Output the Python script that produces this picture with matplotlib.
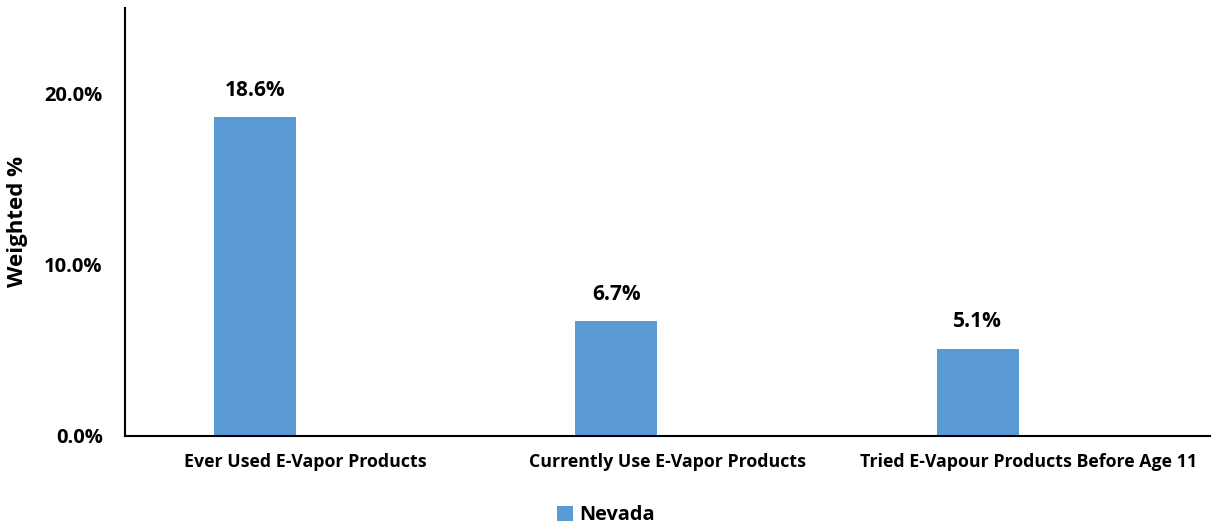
import matplotlib
matplotlib.use("Agg")
import matplotlib.pyplot as plt
from matplotlib.ticker import FuncFormatter

categories = ["Ever Used E-Vapor Products", "Currently Use E-Vapor Products",
              "Tried E-Vapour Products Before Age 11"]
nevada = [18.6, 6.7, 5.1]
series_name = "Nevada"

plt.rcParams['font.family'] = ['Open Sans', 'DejaVu Sans']
plt.rcParams['font.weight'] = 'bold'

fig = plt.figure(figsize=(12.12, 5.27), dpi=100)
ax = fig.add_axes([0.1031, 0.1727, 0.8949, 0.8123])

x = list(range(len(categories)))
# bars sit left of the category centre (clustered layout in the source)
shift = -0.141
bars = ax.bar([xi + shift for xi in x], nevada, width=0.227,
              color="#5B9BD5", label=series_name)

for xi, v in zip(x, nevada):
    ax.text(xi + shift, v + 0.95, f"{v:.1f}%", ha="center", va="bottom",
            fontsize=15, fontweight="bold")

ax.set_xlim(-0.5, 2.5)
ax.set_ylim(0, 25)
ax.set_yticks([0, 10, 20])
ax.yaxis.set_major_formatter(FuncFormatter(lambda v, p: f"{v:.1f}%"))
ax.set_xticks(x)
ax.set_xticklabels(categories, fontsize=12.8, fontweight="bold")
ax.tick_params(axis="x", length=0, pad=12)
ax.tick_params(axis="y", length=0, labelsize=14.5, pad=16)
for lab in ax.get_yticklabels():
    lab.set_fontweight("bold")

ax.spines["top"].set_visible(False)
ax.spines["right"].set_visible(False)
ax.spines["left"].set_linewidth(1.5)
ax.spines["bottom"].set_linewidth(1.5)

ax.set_ylabel("Weighted %", fontsize=16, fontweight="bold", labelpad=12)

fig.legend(handles=[bars], labels=[series_name], loc="center",
           bbox_to_anchor=(0.5, 0.022), frameon=False, fontsize=14.3,
           handlelength=0.8, handleheight=0.8, handletextpad=0.3)

fig.savefig("out.png", dpi=100)
